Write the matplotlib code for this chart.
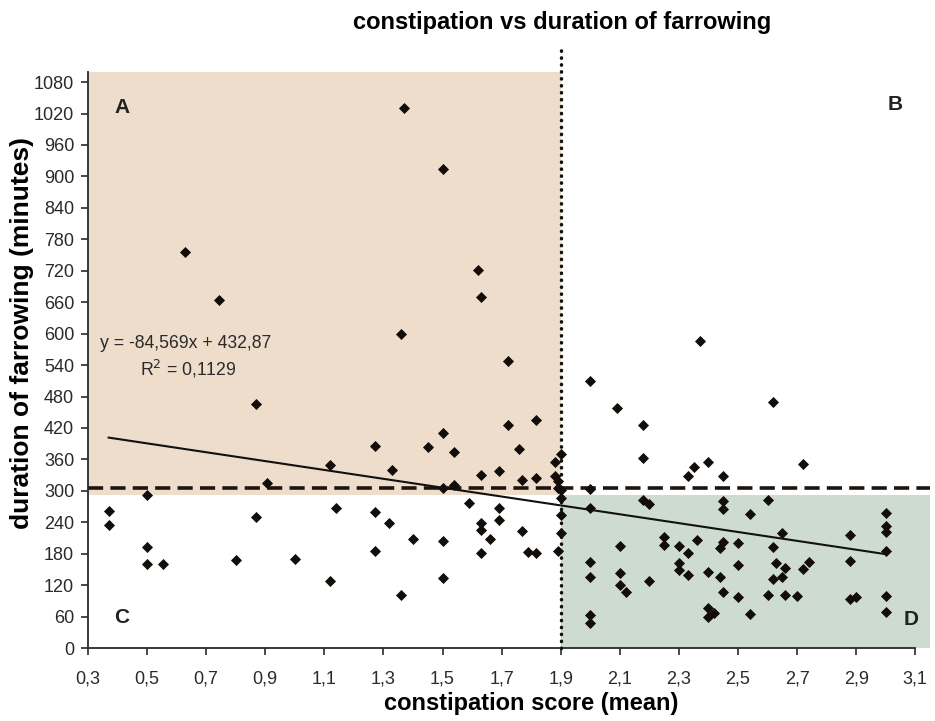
import matplotlib
matplotlib.use('Agg')
import matplotlib.pyplot as plt
import numpy as np

plt.rcParams['font.family'] = ['Liberation Sans', 'DejaVu Sans']

# -----------------------------------------------------------------------------
# Data
# -----------------------------------------------------------------------------
score = [
    1.37, 1.50, 0.63, 0.745, 1.62, 1.63, 1.36,
    1.72, 0.87, 1.815, 1.72, 1.50, 1.27, 1.45, 1.54, 1.76, 1.90, 1.88,
    1.12, 1.33, 1.63, 1.69, 1.77, 1.815, 1.88, 1.89, 1.89, 0.905, 1.50, 1.54,
    0.50, 1.90, 1.59, 0.37, 0.37, 1.14, 1.27, 1.69, 0.87, 1.32, 1.69, 1.63,
    1.63, 1.77, 1.90, 1.90, 1.90, 1.40, 1.50, 1.66, 0.50, 1.27, 1.63, 1.815,
    1.79, 1.89, 0.80, 1.00, 0.50, 0.555, 1.12, 1.50, 1.36,
    2.37, 2.00, 2.09, 2.62, 2.18, 2.18, 2.72, 2.40, 2.35, 2.33, 2.45, 2.00,
    2.00, 2.18, 2.20, 2.45, 2.45, 2.60, 2.54, 3.00, 3.00, 3.00, 3.00, 2.88,
    2.88, 2.65, 2.62, 2.50, 2.45, 2.44, 2.36, 2.30, 2.33, 2.25, 2.25, 2.10,
    2.00, 2.00, 2.10, 2.10, 2.12, 2.20, 2.30, 2.30, 2.33, 2.40, 2.44, 2.50,
    2.63, 2.66, 2.62, 2.65, 2.72, 2.74, 2.45, 2.50, 2.60, 2.66, 2.70, 2.88,
    2.90, 3.00, 3.00, 2.40, 2.40, 2.42, 2.54, 2.00, 2.00,
]
duration = [
    1030, 915, 755, 665, 722, 670, 600,
    548, 465, 435, 425, 410, 385, 383, 375, 380, 370, 355,
    350, 340, 330, 338, 321, 325, 328, 318, 305, 315, 305, 311,
    292, 286, 277, 262, 235, 268, 260, 268, 250, 238, 245, 225,
    238, 223, 301, 253, 219, 208, 205, 208, 192, 185, 182, 181,
    183, 185, 168, 170, 160, 160, 128, 133, 102,
    585, 510, 458, 470, 425, 363, 352, 355, 345, 328, 328, 303,
    268, 282, 274, 280, 265, 282, 255, 258, 232, 222, 185, 216,
    167, 220, 192, 201, 202, 190, 206, 195, 182, 212, 196, 195,
    164, 135, 143, 121, 106, 127, 162, 148, 139, 146, 136, 158,
    162, 153, 131, 136, 150, 164, 106, 98, 102, 102, 100, 93,
    98, 100, 69, 76, 59, 66, 64, 63, 48,
]

# trend line as printed on the chart
SLOPE = -84.569
INTERCEPT = 432.87
FIT_RANGE = (0.37, 3.0)

CUT_X = 1.9     # dotted split on the score axis
CUT_Y = 306     # dashed split on the duration axis
XTICKS = np.arange(0.3, 3.11, 0.2)
YTICKS = np.arange(0, 1081, 60)

TAN = '#efddcc'
GREEN = '#cddbd1'
INK = '#111111'

fig = plt.figure(figsize=(9.35, 7.21), dpi=100)
ax = fig.add_axes([0.0941, 0.1012, 0.9006, 0.8358])
ax.set_xlim(0.3, 3.15)
ax.set_ylim(0, 1150)

# quadrant shading
ax.fill_between([0.3, CUT_X], 292, 1100, color=TAN, lw=0, zorder=0)
ax.fill_between([CUT_X, 3.15], 0, 292, color=GREEN, lw=0, zorder=0)

ax.axhline(CUT_Y, color='#1c140e', lw=2.6, dashes=(4.2, 2.0), zorder=2)
ax.plot([CUT_X, CUT_X], [0, 1148], color=INK, lw=2.5, ls=(0, (0.1, 1.9)),
        dash_capstyle='round', zorder=3, clip_on=False)

ax.scatter(score, duration, marker='D', s=32, color='#120d08', lw=0, zorder=4)

fx = np.array(FIT_RANGE)
ax.plot(fx, SLOPE * fx + INTERCEPT, color=INK, lw=1.5, zorder=5)

ax.text(0.34, 582, 'y = -84,569x + 432,87', fontsize=12.7, va='center', color='#2a2a2a')
ax.text(0.475, 532, 'R$^2$ = 0,1129', fontsize=12.7, va='center', color='#2a2a2a')

for lab, x, y in [('A', 0.414, 1032), ('B', 3.033, 1038), ('C', 0.414, 59), ('D', 3.087, 55)]:
    ax.text(x, y, lab, fontsize=15, fontweight='bold', ha='center', va='center',
            color='#222222')

ax.set_xticks(XTICKS)
ax.set_xticklabels([f'{t:.1f}'.replace('.', ',') for t in XTICKS])
ax.set_yticks(YTICKS)
ax.set_yticklabels([str(int(t)) for t in YTICKS])
ax.tick_params(labelsize=13, colors='#2a2a2a', length=5, width=1.2)
ax.tick_params(axis='x', pad=11)
ax.tick_params(axis='y', pad=5)

for side in ['top', 'right']:
    ax.spines[side].set_visible(False)
ax.spines['left'].set_bounds(0, 1100)
ax.spines['bottom'].set_bounds(0.3, 3.1)
for side in ['left', 'bottom']:
    ax.spines[side].set_color('#2a2a2a')
    ax.spines[side].set_linewidth(1.3)

fig.text(0.568, 0.024, 'constipation score (mean)', fontsize=17, fontweight='bold',
         ha='center', va='center')
fig.text(0.024, 0.538, 'duration of farrowing (minutes)', fontsize=19, fontweight='bold',
         ha='center', va='center', rotation=90)
fig.text(0.601, 0.969, 'constipation vs duration of farrowing', fontsize=17,
         fontweight='bold', ha='center', va='center')

fig.savefig('out.png', dpi=100)
